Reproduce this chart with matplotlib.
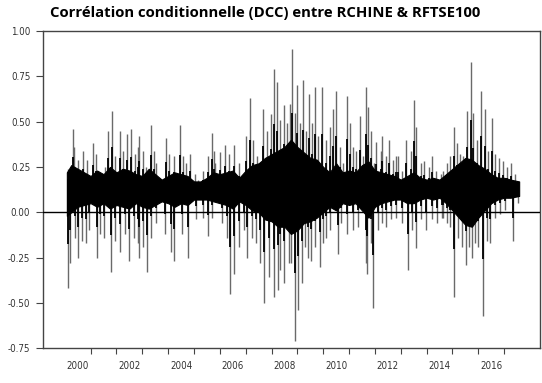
import numpy as np
import matplotlib
matplotlib.use("Agg")
import matplotlib.pyplot as plt

# upward spikes (year, value)
up_t = [2000.12, 2000.30, 2000.37, 2000.53, 2000.72, 2000.85, 2001.11, 2001.21, 2001.30, 2001.56,
        2001.66, 2001.82, 2001.95, 2002.14, 2002.27, 2002.42, 2002.57, 2002.70, 2002.85,
        2002.89, 2003.02, 2003.15, 2003.34, 2003.44, 2003.53, 2003.73, 2003.92, 2004.05, 2004.22,
        2004.44, 2004.56, 2004.69, 2004.86, 2005.02, 2005.15, 2005.34, 2005.53, 2005.69, 2005.79,
        2005.83, 2006.00, 2006.18, 2006.34, 2006.56, 2006.73, 2007.01, 2007.18, 2007.29, 2007.44,
        2007.66, 2007.83, 2007.98, 2008.11, 2008.21, 2008.34, 2008.47, 2008.58, 2008.70,
        2008.81, 2008.90, 2008.99, 2009.09, 2009.22, 2009.35, 2009.45, 2009.58, 2009.67, 2009.80,
        2009.95, 2010.12, 2010.25, 2010.38, 2010.51, 2010.64, 2010.77, 2010.90, 2011.03, 2011.15,
        2011.28, 2011.41, 2011.54, 2011.65,
        2011.75, 2011.84, 2011.97, 2012.06, 2012.22, 2012.29, 2012.42, 2012.55, 2012.68, 2012.80,
        2012.91, 2013.06, 2013.19, 2013.39, 2013.51, 2013.60, 2013.77, 2013.90, 2014.09, 2014.22,
        2014.38, 2014.55,
        2014.65, 2014.78, 2014.91, 2015.04, 2015.16, 2015.29, 2015.42, 2015.55, 2015.71, 2015.81,
        2015.94, 2016.11, 2016.26, 2016.39, 2016.52, 2016.65, 2016.80, 2016.97, 2017.10, 2017.25,
        2017.40, 2017.52]
up_v = [0.24, 0.46, 0.36, 0.29, 0.34, 0.29, 0.38, 0.32, 0.23, 0.25,
        0.45, 0.56, 0.31, 0.45, 0.34, 0.43, 0.46, 0.32, 0.36,
        0.42, 0.34, 0.25, 0.48, 0.34, 0.27, 0.18, 0.41, 0.32, 0.31,
        0.48, 0.31, 0.27, 0.32, 0.21, 0.18, 0.23, 0.31, 0.44, 0.34,
        0.27, 0.33, 0.37, 0.32, 0.37, 0.27, 0.42, 0.63, 0.40, 0.31,
        0.57, 0.45, 0.54, 0.79, 0.72, 0.51, 0.59, 0.49, 0.60,
        0.90, 0.55, 0.70, 0.49, 0.73, 0.45, 0.65, 0.49, 0.69, 0.42,
        0.69, 0.40, 0.47, 0.57, 0.67, 0.36, 0.27, 0.64, 0.49, 0.36,
        0.34, 0.53, 0.31, 0.69,
        0.58, 0.45, 0.27, 0.39, 0.34, 0.42, 0.31, 0.40, 0.29, 0.31,
        0.31, 0.23, 0.40, 0.34, 0.62, 0.47, 0.27, 0.28, 0.25, 0.31,
        0.23, 0.21,
        0.23, 0.27, 0.31, 0.47, 0.38, 0.32, 0.31, 0.56, 0.83, 0.55,
        0.40, 0.67, 0.57, 0.34, 0.52, 0.32, 0.30, 0.28, 0.25, 0.27,
        0.21, 0.16]

# downward spikes
dn_t = [2000.14, 2000.21, 2000.40, 2000.50, 2000.66, 2000.81, 2000.92, 2001.24, 2001.37, 2001.50,
        2001.79, 2001.95, 2002.14, 2002.33, 2002.49, 2002.66, 2002.85,
        2002.89, 2003.02, 2003.19, 2003.34, 2003.53, 2003.88, 2004.11, 2004.24, 2004.53, 2004.76,
        2005.08, 2005.34, 2005.53, 2005.69,
        2006.09, 2006.28, 2006.41, 2006.56, 2006.73, 2006.92, 2007.05, 2007.25, 2007.41, 2007.57,
        2007.72, 2007.89, 2008.09, 2008.24, 2008.34, 2008.50, 2008.67,
        2008.77, 2008.90, 2009.03, 2009.16, 2009.28, 2009.41, 2009.54, 2009.67, 2009.86, 2009.99,
        2010.12, 2010.25, 2010.57, 2010.70, 2010.90, 2011.15, 2011.35, 2011.67,
        2011.71, 2011.84, 2011.93, 2012.10, 2012.29, 2012.42, 2012.61, 2012.80, 2013.06, 2013.29,
        2013.45, 2013.58, 2013.77, 2013.97, 2014.22, 2014.42, 2014.61,
        2014.65, 2014.78, 2014.91, 2015.07, 2015.23, 2015.38, 2015.51, 2015.64, 2015.74, 2015.87,
        2016.00, 2016.17, 2016.33, 2016.45, 2016.65, 2016.84, 2017.03, 2017.36, 2017.52]
dn_v = [-0.42, -0.28, -0.14, -0.25, -0.16, -0.17, -0.10, -0.25, -0.12, -0.14,
        -0.33, -0.16, -0.22, -0.12, -0.27, -0.14, -0.17,
        -0.25, -0.19, -0.33, -0.14, -0.06, -0.12, -0.22, -0.27, -0.12, -0.25,
        -0.04, -0.03, -0.13, -0.03,
        -0.06, -0.14, -0.45, -0.34, -0.19, -0.10, -0.25, -0.14, -0.17, -0.28,
        -0.50, -0.36, -0.47, -0.43, -0.32, -0.39, -0.28,
        -0.28, -0.71, -0.54, -0.39, -0.19, -0.25, -0.27, -0.19, -0.30, -0.17,
        -0.14, -0.10, -0.23, -0.06, -0.12, -0.10, -0.08, -0.28,
        -0.34, -0.17, -0.53, -0.10, -0.06, -0.08, -0.04, -0.03, -0.06, -0.32,
        -0.10, -0.20, -0.04, -0.10, -0.04, -0.06, -0.03,
        -0.03, -0.06, -0.08, -0.47, -0.14, -0.19, -0.29, -0.19, -0.25, -0.17,
        -0.19, -0.57, -0.16, -0.17, -0.03, -0.01, 0.01, -0.16, 0.05]

# dense core of the series (upper / lower edge), quarterly
band_t = [2000.08, 2000.25, 2000.50, 2000.75, 2001.00, 2001.25, 2001.50, 2001.75,
          2002.00, 2002.25, 2002.50, 2002.75, 2003.00, 2003.25, 2003.50, 2003.75,
          2004.00, 2004.25, 2004.50, 2004.75, 2005.00, 2005.25, 2005.50, 2005.75,
          2006.00, 2006.25, 2006.50, 2006.75, 2007.00, 2007.25, 2007.50, 2007.75,
          2008.00, 2008.25, 2008.50, 2008.75, 2009.00, 2009.25, 2009.50, 2009.75,
          2010.00, 2010.25, 2010.50, 2010.75, 2011.00, 2011.25, 2011.50, 2011.75,
          2012.00, 2012.25, 2012.50, 2012.75, 2013.00, 2013.25, 2013.50, 2013.75,
          2014.00, 2014.25, 2014.50, 2014.75, 2015.00, 2015.25, 2015.50, 2015.75,
          2016.00, 2016.25, 2016.50, 2016.75, 2017.00, 2017.25, 2017.58]
band_hi = [0.22, 0.26, 0.24, 0.22, 0.20, 0.23, 0.21, 0.25,
           0.22, 0.24, 0.23, 0.21, 0.20, 0.24, 0.21, 0.18,
           0.20, 0.22, 0.21, 0.20, 0.17, 0.17, 0.19, 0.22,
           0.21, 0.22, 0.23, 0.19, 0.23, 0.26, 0.27, 0.30,
           0.32, 0.34, 0.36, 0.40, 0.36, 0.33, 0.30, 0.29,
           0.25, 0.22, 0.27, 0.22, 0.23, 0.22, 0.26, 0.28,
           0.23, 0.22, 0.21, 0.20, 0.18, 0.20, 0.22, 0.19,
           0.18, 0.19, 0.18, 0.21, 0.24, 0.27, 0.30, 0.29,
           0.26, 0.24, 0.21, 0.19, 0.19, 0.18, 0.17]
band_lo = [-0.02, 0.00, 0.03, 0.04, 0.05, 0.03, 0.05, 0.02,
           0.04, 0.03, 0.02, 0.05, 0.03, 0.02, 0.04, 0.06,
           0.05, 0.03, 0.05, 0.04, 0.07, 0.07, 0.07, 0.06,
           0.05, 0.04, 0.02, 0.06, 0.04, 0.01, 0.00, -0.04,
           -0.05, -0.08, -0.08, -0.12, -0.10, -0.06, -0.05, -0.03,
           0.00, 0.03, 0.01, 0.05, 0.04, 0.05, 0.01, -0.03,
           0.03, 0.05, 0.06, 0.07, 0.07, 0.05, 0.05, 0.07,
           0.08, 0.07, 0.08, 0.05, 0.01, -0.03, -0.07, -0.08,
           -0.03, 0.01, 0.05, 0.07, 0.08, 0.08, 0.09]

y_ticks = [-0.75, -0.50, -0.25, 0.00, 0.25, 0.50, 0.75, 1.00]
year_labels = [2000, 2002, 2004, 2006, 2008, 2010, 2012, 2014, 2016]
title = "Corrélation conditionnelle (DCC) entre RCHINE & RFTSE100"

small = dict(family=["Liberation Sans Narrow", "DejaVu Sans"], stretch="condensed",
             fontsize=7, color="#333333")

fig = plt.figure(figsize=(5.42, 3.83), dpi=100)
ax = fig.add_axes([0.079, 0.091, 0.917, 0.828])

base = 0.12
up_t = np.array(up_t); up_v = np.array(up_v)
dn_t = np.array(dn_t); dn_v = np.array(dn_v)

# thin grey spikes, darker near the core
ax.vlines(up_t, base, up_v, color="#6a6a6a", lw=1.0, zorder=1)
ax.vlines(dn_t, dn_v, base, color="#6a6a6a", lw=1.0, zorder=1)
ax.vlines(up_t, base, base + 0.55 * (up_v - base), color="black", lw=1.3, zorder=2)
ax.vlines(dn_t, base + 0.55 * (dn_v - base), base, color="black", lw=1.3, zorder=2)
ax.fill_between(band_t, band_lo, band_hi, color="black", lw=0.8, edgecolor="black", zorder=3)
ax.axhline(0, color="black", lw=1.0, zorder=4)

ax.set_ylim(-0.75, 1.0)
ax.set_xlim(1999.15, 2018.38)
ax.set_yticks(y_ticks)
ax.set_yticklabels(["%.2f" % v for v in y_ticks], **small)

ax.set_xticks(range(2001, 2018))
ax.set_xticklabels([])
ax.set_xticks([y + 0.5 for y in year_labels], minor=True)
ax.set_xticklabels([str(y) for y in year_labels], minor=True, **small)
ax.tick_params(axis="x", which="major", direction="out", length=4, width=0.8, color="#444444")
ax.tick_params(axis="x", which="minor", length=0, pad=9)
ax.tick_params(axis="y", direction="out", length=5, width=0.8, color="#444444", pad=4)

for s in ax.spines.values():
    s.set_color("#444444")
    s.set_linewidth(1.0)

fig.text(0.489, 0.966, title, ha="center", va="center", fontsize=10.7, fontweight="bold",
         family=["Open Sans", "DejaVu Sans"])

fig.savefig("out.png", dpi=100)
